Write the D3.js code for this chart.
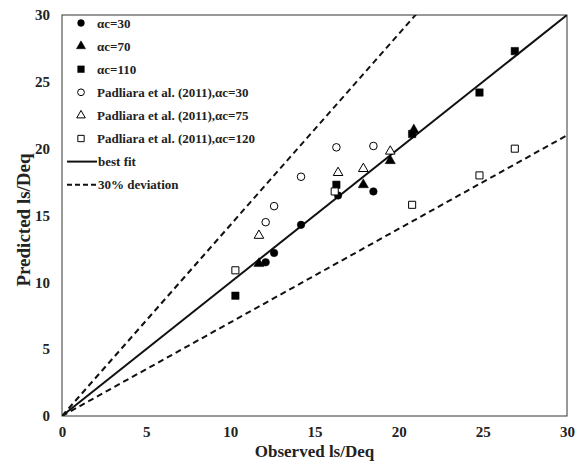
<!DOCTYPE html>
<html>
<head>
<meta charset="utf-8">
<script src="https://cdn.jsdelivr.net/npm/d3@7"></script>
<style>
  body { margin: 0; background: #fff; }
  text { font-family: "Liberation Serif", "Times New Roman", serif; font-weight: bold; }
</style>
</head>
<body>
<div id="my_dataviz"></div>
<script>
// data
var xTicks = [0, 5, 10, 15, 20, 25, 30];
var yTicks = [0, 5, 10, 15, 20, 25, 30];

var ac30Obs = [12.1, 12.6, 14.2, 16.4, 18.5];
var ac30Pred = [11.5, 12.2, 14.3, 16.5, 16.8];
var ac70Obs = [11.7, 17.9, 19.5, 20.9];
var ac70Pred = [11.4, 17.3, 19.1, 21.4];
var ac110Obs = [10.3, 16.3, 20.8, 24.8, 26.9];
var ac110Pred = [9.0, 17.3, 21.1, 24.2, 27.3];
var pad30Obs = [12.1, 12.6, 14.2, 16.3, 18.5];
var pad30Pred = [14.5, 15.7, 17.9, 20.1, 20.2];
var pad75Obs = [11.7, 16.4, 17.9, 19.5];
var pad75Pred = [13.5, 18.2, 18.5, 19.8];
var pad120Obs = [10.3, 16.2, 20.8, 24.8, 26.9];
var pad120Pred = [10.9, 16.8, 15.8, 18.0, 20.0];

var fitSlopes = [1, 1 / 0.7, 0.7];

var margin = {top: 15, right: 15, bottom: 45, left: 62},
    width = 582 - margin.left - margin.right,
    height = 461 - margin.top - margin.bottom;

var svg = d3.select("#my_dataviz")
            .append("svg")
              .attr("width", 582)
              .attr("height", 461)
            .append("g")
              .attr("transform", "translate(" + margin.left + "," + margin.top + ")");

var x = d3.scaleLinear().domain([0, 30]).range([0, width]);
var y = d3.scaleLinear().domain([0, 30]).range([height, 0]);

svg.append("clipPath").attr("id", "clip")
   .append("rect").attr("width", width).attr("height", height);

// axes without tick marks
var xAxis = svg.append("g")
   .attr("transform", "translate(0," + height + ")")
   .call(d3.axisBottom(x).tickValues(xTicks).tickSize(0).tickPadding(10));
xAxis.select(".domain").remove();
xAxis.selectAll("text").style("font-size", "15px").style("font-family", "Liberation Serif").attr("fill", "#222");

var yAxis = svg.append("g")
   .call(d3.axisLeft(y).tickValues(yTicks).tickSize(0).tickPadding(12));
yAxis.select(".domain").remove();
yAxis.selectAll("text").style("font-size", "15px").style("font-family", "Liberation Serif").attr("fill", "#222");

// plot frame
svg.append("rect")
   .attr("width", width).attr("height", height)
   .attr("fill", "none").attr("stroke", "#333").attr("stroke-width", 1);

// best fit and 30% lines
var lineData = fitSlopes.map(function (s, i) {
  return {slope: s, dashed: i > 0};
});
svg.append("g").attr("clip-path", "url(#clip)")
   .selectAll("line").data(lineData).enter()
   .append("line")
   .attr("x1", x(0)).attr("y1", y(0))
   .attr("x2", x(30)).attr("y2", function (d) { return y(30 * d.slope); })
   .attr("stroke", "#111")
   .attr("stroke-width", 2)
   .attr("stroke-dasharray", function (d) { return d.dashed ? "6,4" : null; });

// series
var series = [
  {obs: ac30Obs, pred: ac30Pred, sym: d3.symbolCircle, size: 45, fill: true, name: "\u03b1c=30"},
  {obs: ac70Obs, pred: ac70Pred, sym: d3.symbolTriangle, size: 45, fill: true, name: "\u03b1c=70"},
  {obs: ac110Obs, pred: ac110Pred, sym: d3.symbolSquare, size: 55, fill: true, name: "\u03b1c=110"},
  {obs: pad30Obs, pred: pad30Pred, sym: d3.symbolCircle, size: 45, fill: false, name: "Padliara et al. (2011),\u03b1c=30"},
  {obs: pad75Obs, pred: pad75Pred, sym: d3.symbolTriangle, size: 40, fill: false, name: "Padliara et al. (2011),\u03b1c=75"},
  {obs: pad120Obs, pred: pad120Pred, sym: d3.symbolSquare, size: 50, fill: false, name: "Padliara et al. (2011),\u03b1c=120"}
];

series.forEach(function (s) {
  var pts = s.obs.map(function (o, i) { return [o, s.pred[i]]; });
  svg.append("g").selectAll("path").data(pts).enter()
     .append("path")
     .attr("d", d3.symbol().type(s.sym).size(s.size))
     .attr("transform", function (d) { return "translate(" + x(d[0]) + "," + y(d[1]) + ")"; })
     .attr("fill", s.fill ? "#000" : "#fff")
     .attr("stroke", "#000")
     .attr("stroke-width", s.fill ? 0.5 : 1);
});

// legend
var legend = svg.append("g").attr("transform", "translate(0,8)");
var rowH = 23.1;
series.forEach(function (s, i) {
  legend.append("path")
        .attr("d", d3.symbol().type(s.sym).size(s.size * 0.8))
        .attr("transform", "translate(" + 19 + "," + (i * rowH) + ")")
        .attr("fill", s.fill ? "#000" : "#fff")
        .attr("stroke", "#000")
        .attr("stroke-width", s.fill ? 0.5 : 1);
  legend.append("text")
        .attr("x", 35).attr("y", i * rowH)
        .attr("dy", "0.35em")
        .style("font-size", "13px")
        .attr("fill", "#222")
        .text(s.name);
});
["best fit", "30% deviation"].forEach(function (t, j) {
  var yy = (6 + j) * rowH;
  legend.append("line")
        .attr("x1", 5).attr("x2", 35).attr("y1", yy).attr("y2", yy)
        .attr("stroke", "#111").attr("stroke-width", 2)
        .attr("stroke-dasharray", j ? "5,3" : null);
  legend.append("text")
        .attr("x", 36).attr("y", yy)
        .attr("dy", "0.35em")
        .style("font-size", "13px")
        .attr("fill", "#222")
        .text(t);
});

// axis titles
svg.append("text")
   .attr("text-anchor", "middle")
   .attr("x", width / 2)
   .attr("y", height + 41)
   .style("font-size", "17px")
   .attr("fill", "#222")
   .text("Observed ls/Deq");
svg.append("text")
   .attr("text-anchor", "middle")
   .attr("transform", "rotate(-90)")
   .attr("x", -205)
   .attr("y", -margin.left + 30)
   .style("font-size", "19px")
   .attr("fill", "#222")
   .text("Predicted ls/Deq");
</script>
</body>
</html>
